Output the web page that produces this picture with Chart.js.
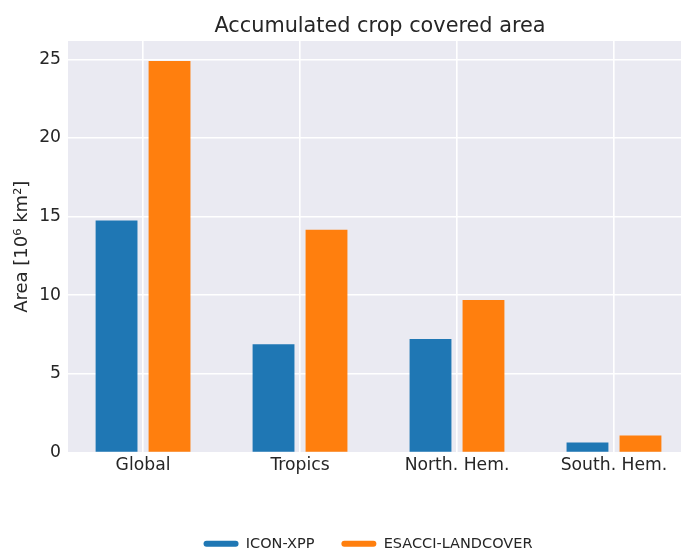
<!DOCTYPE html>
<html lang="en">
<head>
  <meta charset="UTF-8">
  <title>Accumulated crop covered area</title>
  <script src="https://cdn.jsdelivr.net/npm/chart.js"></script>
  <style>
    html, body {
      margin: 0;
      padding: 0;
      background: #fff;
      overflow: hidden;
    }
    .container {
      width: 736px;
      height: 561px;
    }
  </style>
</head>
<body>
  <div class="container">
    <canvas id="myChart" width="736" height="561"></canvas>
  </div>
  <script>
    const regions = ['Global', 'Tropics', 'North. Hem.', 'South. Hem.']
    const iconXpp = [14.75, 6.89, 7.21, 0.64]
    const esacci = [24.9, 14.17, 9.7, 1.08]
    const yTicks = [0, 5, 10, 15, 20, 25]

    const textColor = '#262626'
    const font = 'DejaVu Sans'

    // seaborn style background behind the plot
    const plotBackground = {
      id: 'plotBackground',
      beforeDraw(chart) {
        const { ctx, chartArea } = chart
        ctx.save()
        ctx.fillStyle = '#eaeaf2'
        ctx.fillRect(chartArea.left, chartArea.top, chartArea.right - chartArea.left, chartArea.bottom - chartArea.top)
        ctx.restore()
      }
    }

    const ctx = document.getElementById('myChart')

    new Chart(ctx, {
      type: 'bar',
      data: {
        datasets: [{
          label: 'ICON-XPP',
          data: iconXpp.map((v, i) => ({ x: i, y: v })),
          backgroundColor: '#1f77b4'
        }, {
          label: 'ESACCI-LANDCOVER',
          data: esacci.map((v, i) => ({ x: i, y: v })),
          backgroundColor: '#ff7f0e'
        }]
      },
      options: {
        responsive: false,
        animation: false,
        devicePixelRatio: 1,
        categoryPercentage: 0.675,
        barPercentage: 0.79,
        plugins: {
          title: {
            display: true,
            text: 'Accumulated crop covered area',
            fullSize: false,
            color: textColor,
            font: { family: font, size: 20.8, weight: 'normal' },
            padding: { top: 14, bottom: 2 }
          },
          legend: {
            position: 'bottom',
            labels: {
              color: textColor,
              font: { family: font, size: 14.5 },
              boxWidth: 35,
              boxHeight: 6,
              useBorderRadius: true,
              borderRadius: 3,
              padding: 27
            }
          },
          tooltip: { enabled: false }
        },
        scales: {
          x: {
            type: 'linear',
            offset: false,
            min: -0.478,
            max: 3.497,
            border: { display: false },
            grid: { color: '#ffffff', lineWidth: 1.6, drawTicks: false, offset: false },
            afterBuildTicks: s => { s.ticks = regions.map((r, i) => ({ value: i })) },
            afterFit: s => { s.height = 57 },
            ticks: {
              color: textColor,
              font: { family: font, size: 17.2 },
              padding: 3,
              callback: v => regions[v]
            }
          },
          y: {
            min: 0,
            max: 26.17,
            border: { display: false },
            grid: { color: '#ffffff', lineWidth: 1.6, drawTicks: false },
            afterBuildTicks: s => { s.ticks = yTicks.map(v => ({ value: v })) },
            afterFit: s => { s.width = 68 },
            ticks: {
              color: textColor,
              font: { family: font, size: 17.2 },
              padding: 7
            },
            title: {
              display: true,
              text: 'Area [10⁶ km²]',
              color: textColor,
              font: { family: font, size: 18 },
              padding: { top: 12, bottom: 0 }
            }
          },
          // empty space on the right, the plot runs past the window edge
          yRight: {
            position: 'right',
            min: 0,
            max: 26.17,
            border: { display: false },
            grid: { display: false },
            ticks: { display: false },
            afterFit: s => { s.width = 44 }
          }
        }
      },
      plugins: [plotBackground]
    })
  </script>
</body>
</html>
